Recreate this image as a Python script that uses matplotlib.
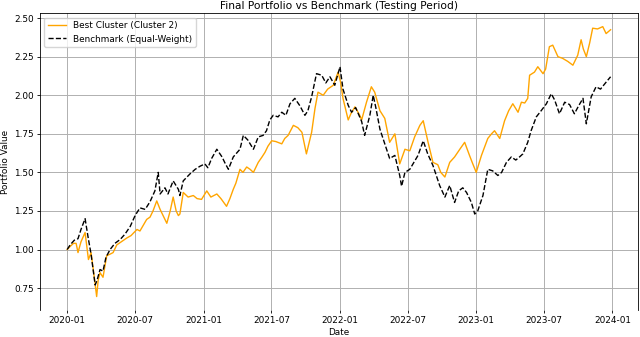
import matplotlib
matplotlib.use("Agg")
import matplotlib.pyplot as plt
import matplotlib.dates as mdates
import pandas as pd

# Days since 2020-01-01 and values
bench_days = [0, 8, 19, 29, 37, 48, 56, 64, 75, 80, 88, 96, 104, 115, 128, 142, 155, 169, 182, 195,
              209, 222, 235, 244, 249, 262, 270, 284, 298, 302, 311, 329, 343, 356, 369, 377, 387, 401,
              415, 423, 432, 445, 463, 472, 484, 499, 512, 525, 534, 543, 552, 565, 575, 586, 597, 610,
              624, 637, 645, 655, 668, 682, 693, 704, 717, 731, 739, 753, 762, 773, 789, 797, 811, 820,
              827, 838, 851, 864, 878, 891, 896, 905, 918, 940, 954, 966, 980, 998, 1012, 1025, 1038,
              1049, 1060, 1070, 1083, 1092, 1100, 1114, 1127, 1140, 1154, 1164, 1177, 1190, 1202, 1212,
              1221, 1234, 1243, 1257, 1270, 1284, 1297, 1306, 1319, 1333, 1346, 1359, 1370, 1382, 1391,
              1404, 1417, 1429, 1444, 1456]
bench_vals = [1.00, 1.03, 1.06, 1.07, 1.13, 1.20, 1.08, 0.97, 0.77, 0.80, 0.87, 0.86, 0.95, 1.00, 1.04,
              1.065, 1.10, 1.15, 1.22, 1.27, 1.26, 1.31, 1.38, 1.50, 1.36, 1.40, 1.36, 1.445, 1.39, 1.35,
              1.445, 1.49, 1.52, 1.54, 1.555, 1.53, 1.59, 1.65, 1.60, 1.56, 1.52, 1.60, 1.65, 1.74, 1.71,
              1.65, 1.73, 1.74, 1.77, 1.84, 1.87, 1.86, 1.89, 1.87, 1.945, 1.98, 1.93, 1.87, 1.90, 1.99,
              2.14, 2.13, 2.08, 2.12, 2.065, 2.185, 2.04, 1.935, 1.89, 1.92, 1.83, 1.74, 1.87, 2.00, 1.92,
              1.78, 1.685, 1.59, 1.61, 1.48, 1.41, 1.50, 1.52, 1.61, 1.705, 1.62, 1.545, 1.415, 1.34,
              1.415, 1.305, 1.38, 1.40, 1.37, 1.305, 1.23, 1.25, 1.35, 1.52, 1.51, 1.48, 1.50, 1.565,
              1.60, 1.58, 1.60, 1.62, 1.695, 1.77, 1.86, 1.90, 1.945, 2.01, 1.97, 1.88, 1.955, 1.94,
              1.88, 1.93, 1.98, 1.815, 1.99, 2.055, 2.04, 2.085, 2.12]

port_days = [0, 8, 17, 24, 29, 37, 48, 57, 64, 70, 79, 83, 88, 96, 106, 115, 123, 133, 145, 160, 171,
             187, 195, 213, 222, 230, 240, 249, 257, 267, 276, 284, 292, 298, 302, 311, 324, 338, 348,
             360, 374, 385, 401, 412, 427, 436, 445, 452, 463, 471, 481, 490, 499, 512, 522, 530, 538,
             548, 559, 575, 583, 592, 606, 618, 629, 641, 655, 664, 672, 686, 698, 713, 726, 733, 739,
             753, 760, 771, 784, 789, 802, 815, 824, 838, 851, 864, 878, 891, 905, 918, 931, 945, 954,
             967, 980, 993, 1001, 1012, 1025, 1038, 1052, 1065, 1078, 1086, 1096, 1110, 1127, 1137,
             1145, 1159, 1172, 1183, 1194, 1208, 1217, 1226, 1234, 1239, 1252, 1261, 1275, 1282, 1292,
             1301, 1315, 1327, 1341, 1355, 1368, 1377, 1383, 1391, 1400, 1408, 1421, 1435, 1444, 1456]
port_vals = [1.00, 1.02, 1.04, 1.04, 0.98, 1.05, 1.11, 0.935, 0.98, 0.87, 0.695, 0.80, 0.85, 0.82, 0.96,
             0.97, 0.98, 1.03, 1.05, 1.075, 1.09, 1.13, 1.12, 1.195, 1.21, 1.25, 1.315, 1.26, 1.22, 1.17,
             1.25, 1.34, 1.25, 1.22, 1.23, 1.37, 1.34, 1.35, 1.33, 1.325, 1.38, 1.34, 1.36, 1.33, 1.28,
             1.33, 1.39, 1.43, 1.52, 1.50, 1.535, 1.52, 1.50, 1.565, 1.60, 1.63, 1.67, 1.705, 1.70,
             1.685, 1.72, 1.74, 1.805, 1.79, 1.76, 1.62, 1.76, 1.915, 2.02, 2.00, 2.04, 2.065, 2.15,
             2.08, 1.98, 1.84, 1.88, 1.925, 1.87, 1.84, 1.955, 2.055, 2.02, 1.90, 1.85, 1.695, 1.75,
             1.555, 1.65, 1.64, 1.73, 1.805, 1.835, 1.695, 1.565, 1.55, 1.50, 1.47, 1.565, 1.60, 1.65,
             1.695, 1.61, 1.56, 1.50, 1.61, 1.72, 1.75, 1.77, 1.72, 1.835, 1.90, 1.945, 1.89, 1.955,
             1.95, 1.98, 2.13, 2.15, 2.185, 2.14, 2.17, 2.315, 2.325, 2.25, 2.24, 2.22, 2.195, 2.26,
             2.36, 2.30, 2.25, 2.34, 2.435, 2.43, 2.445, 2.40, 2.425]

start = pd.Timestamp("2020-01-01")
bench_dates = start + pd.to_timedelta(bench_days, unit="D")
port_dates = start + pd.to_timedelta(port_days, unit="D")

title = "Final Portfolio vs Benchmark (Testing Period)"
xlabel = "Date"
ylabel = "Portfolio Value"
port_label = "Best Cluster (Cluster 2)"
bench_label = "Benchmark (Equal-Weight)"

fs = 6.4
fig = plt.figure(figsize=(6.4, 3.37), dpi=100)
ax = fig.add_axes([0.0625, 0.080, 0.934, 0.881])
ax.plot(port_dates, port_vals, color="orange", lw=1.0, label=port_label)
ax.plot(bench_dates, bench_vals, color="black", lw=1.0, ls="--", label=bench_label)

ax.set_title(title, fontsize=7.7, pad=3)
ax.set_xlabel(xlabel, fontsize=fs, labelpad=2)
ax.set_ylabel(ylabel, fontsize=fs, labelpad=3)
ax.xaxis.set_major_locator(mdates.MonthLocator(bymonth=[1, 7]))
ax.xaxis.set_major_formatter(mdates.DateFormatter("%Y-%m"))
ax.set_yticks([0.75, 1.00, 1.25, 1.50, 1.75, 2.00, 2.25, 2.50])
ax.tick_params(labelsize=fs, length=2.5, width=0.6, pad=2)
ax.grid(True, color="#b0b0b0", lw=0.7)
for s in ax.spines.values():
    s.set_linewidth(0.6)
ax.spines["bottom"].set_visible(False)
ax.legend(loc="upper left", fontsize=fs, framealpha=0.8, borderpad=0.4, handlelength=2.0)

fig.savefig("out.png", dpi=100)
